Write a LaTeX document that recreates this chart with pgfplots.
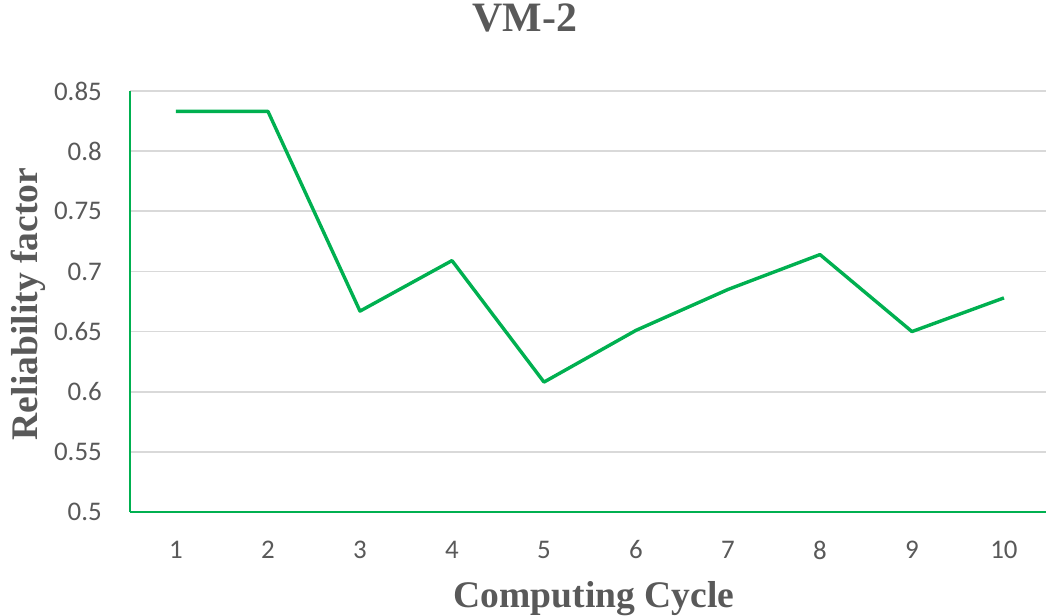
\documentclass[border=0pt]{standalone}
\usepackage{pgfplots}
\pgfplotsset{compat=1.18}
\usepackage{fontspec}
\setmainfont{Liberation Serif}
\newfontfamily\carlito{Carlito}
\definecolor{linegreen}{HTML}{00B050}
\definecolor{txtgray}{HTML}{595959}
\definecolor{gridgray}{HTML}{D9D9D9}
\begin{document}
\begin{tikzpicture}
\useasboundingbox (-130bp,-104bp) rectangle (916bp,512bp);
\begin{axis}[
  at={(0,0)}, anchor=south west,
  scale only axis,
  width=916bp, height=421bp,
  xmin=0.5, xmax=10.457,
  ymin=0.5, ymax=0.85,
  xtick={1,...,10},
  ytick={0.5,0.55,0.6,0.65,0.7,0.75,0.8,0.85},
  yticklabels={0.5,0.55,0.6,0.65,0.7,0.75,0.8,0.85},
  major tick length=0pt,
  axis x line*=bottom, axis y line*=left,
  axis line style={-, draw=linegreen, line width=2bp},
  ymajorgrids,
  grid style={draw=gridgray, line width=1.8bp},
  /pgf/number format/assume math mode=true,
  ticklabel style={font=\carlito\fontsize{27}{27}\selectfont, text=txtgray, inner sep=0pt},
  xticklabel style={anchor=center, yshift=-38bp},
  yticklabel style={anchor=east, xshift=-28bp},
  title={VM-2},
  title style={at={(axis description cs:0.431,1.128)}, anchor=base,
    font=\bfseries\fontsize{42}{42}\selectfont, text=txtgray, inner sep=0pt},
  xlabel={Computing Cycle},
  xlabel style={at={(axis description cs:0.5066,-0.2257)}, anchor=base,
    font=\bfseries\fontsize{37.7}{37.7}\selectfont, text=txtgray, inner sep=0pt},
  ylabel={Reliability factor},
  ylabel style={at={(axis description cs:-0.1015,0.494)}, anchor=base, rotate=0,
    font=\bfseries\fontsize{37.7}{37.7}\selectfont, text=txtgray, inner sep=0pt},
]
\addplot[draw=linegreen, line width=3.4bp, line join=round, mark=none] coordinates {
  (1,0.833) (2,0.833) (3,0.667) (4,0.709) (5,0.608)
  (6,0.651) (7,0.685) (8,0.714) (9,0.650) (10,0.678)
};
\end{axis}
\end{tikzpicture}
\end{document}
